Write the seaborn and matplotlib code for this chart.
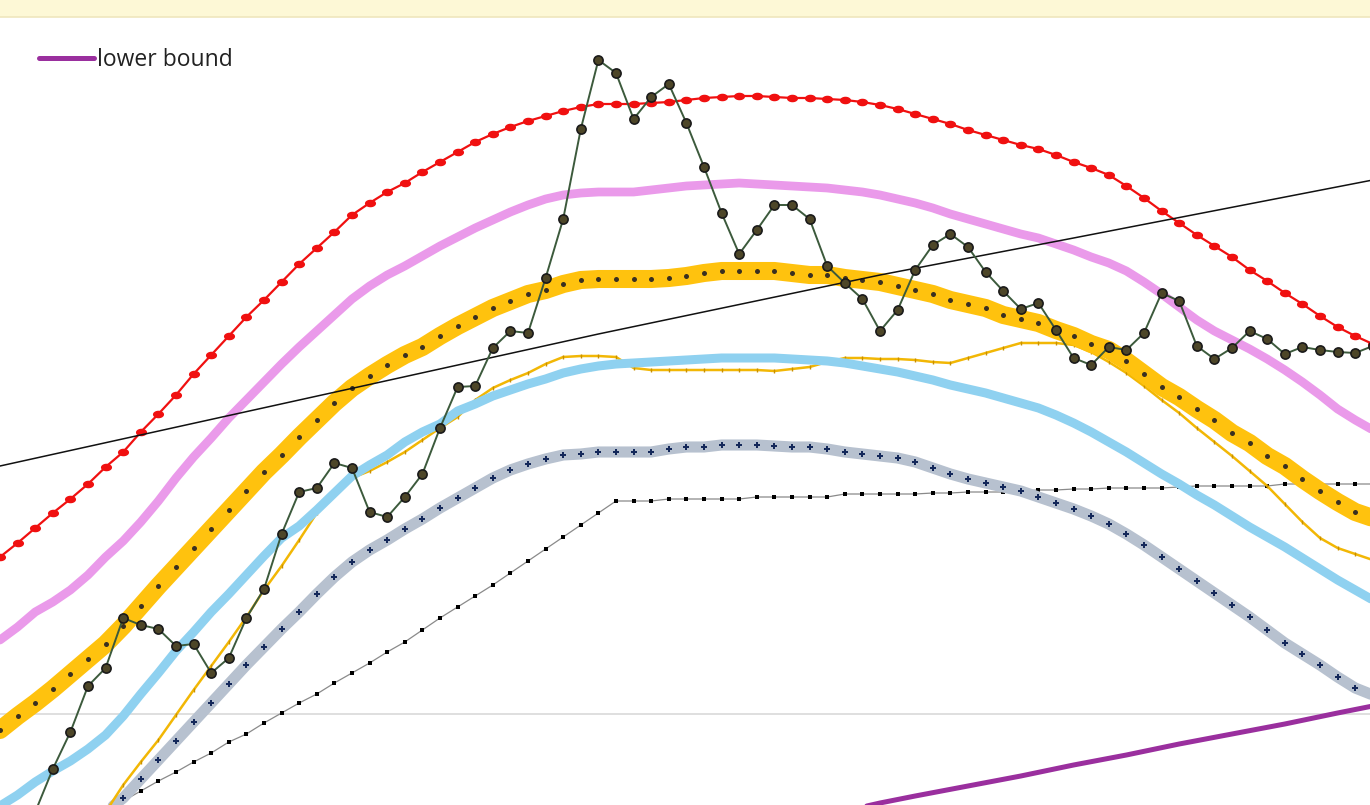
import numpy as np
import pandas as pd
import matplotlib
matplotlib.use("Agg")
import matplotlib.pyplot as plt
from matplotlib.path import Path
import seaborn as sns

# ---- data (x = day index, y = level relative to the reference line at 0) ----
red_start = 0
red_vals = [157, 171, 186, 201, 215, 230, 247, 262, 282, 300,
            319, 340, 359, 378, 397, 414, 432, 450, 466, 482,
            499, 511, 522, 531, 542, 552, 562, 572, 580, 587,
            593, 598, 603, 607, 610, 610, 610, 611, 612, 614,
            616, 617, 618, 618, 617, 616, 616, 615, 614, 612,
            609, 605, 600, 595, 590, 584, 579, 574, 569, 565,
            559, 552, 546, 539, 528, 516, 503, 491, 479, 468,
            457, 444, 433, 421, 410, 398, 387, 378, 370]

pink_start = 0
pink_vals = [74, 87, 102, 112, 124, 139, 157, 173, 192, 213,
             236, 257, 276, 296, 314, 332, 350, 367, 383, 399,
             415, 428, 439, 448, 458, 468, 477, 486, 494, 502,
             509, 515, 519, 521, 522, 522, 522, 524, 526, 528,
             529, 530, 531, 530, 529, 528, 527, 526, 524, 522,
             519, 515, 511, 506, 500, 495, 490, 485, 480, 476,
             470, 464, 457, 451, 443, 432, 420, 407, 394, 383,
             374, 365, 355, 344, 332, 319, 305, 294, 284]

amber_start = 0
amber_vals = [-16, -2, 11, 25, 40, 55, 70, 88, 108, 128,
              147, 166, 185, 204, 223, 242, 259, 277, 294, 311,
              326, 338, 349, 359, 367, 378, 388, 397, 406, 413,
              420, 424, 430, 434, 435, 435, 435, 435, 436, 438,
              441, 443, 443, 443, 443, 441, 439, 439, 436, 434,
              432, 428, 424, 420, 414, 410, 406, 399, 395, 391,
              384, 378, 370, 364, 353, 340, 327, 317, 305, 294,
              281, 271, 258, 248, 235, 223, 212, 202, 196]

sky_start = 0
sky_vals = [-92, -81, -68, -57, -47, -35, -21, -2, 20, 41,
            63, 82, 102, 120, 139, 158, 176, 188, 204, 221,
            238, 249, 259, 272, 282, 290, 303, 310, 318, 324,
            330, 335, 341, 345, 348, 350, 351, 352, 353, 354,
            355, 356, 356, 356, 356, 355, 354, 353, 351, 348,
            345, 342, 338, 334, 329, 325, 321, 316, 311, 306,
            299, 291, 282, 272, 262, 251, 240, 230, 219, 209,
            198, 187, 177, 167, 156, 145, 134, 124, 114]

gold_start = 6
gold_vals = [-98, -71, -48, -26, -1, 24, 48, 72, 97, 124,
             148, 174, 201, 219, 236, 243, 252, 262, 274, 286,
             297, 314, 326, 334, 341, 350, 357, 358, 358, 357,
             346, 344, 344, 344, 344, 344, 344, 344, 343, 345,
             347, 352, 356, 356, 355, 355, 354, 352, 351, 356,
             361, 366, 371, 371, 371, 369, 362, 352, 341, 328,
             314, 301, 286, 272, 258, 243, 228, 210, 192, 176,
             166, 160, 154]

slate_start = 6
slate_vals = [-98, -84, -65, -46, -27, -8, 11, 30, 49, 67,
              85, 102, 120, 137, 152, 164, 174, 185, 195, 206,
              216, 226, 236, 244, 250, 255, 259, 260, 262, 262,
              262, 262, 265, 267, 267, 269, 269, 269, 268, 267,
              267, 265, 262, 260, 258, 256, 252, 246, 240, 235,
              231, 227, 223, 217, 211, 205, 198, 190, 180, 169,
              157, 145, 133, 121, 109, 97, 84, 71, 60, 49,
              37, 26, 19]

step_start = 7
step_vals = [-87, -77, -67, -58, -48, -39, -28, -20, -9, 1,
             11, 20, 31, 41, 51, 62, 72, 84, 96, 107,
             118, 129, 141, 153, 165, 177, 189, 201, 213, 213,
             213, 215, 215, 215, 215, 215, 217, 217, 217, 217,
             217, 220, 220, 220, 220, 220, 221, 221, 222, 222,
             222, 223, 224, 224, 225, 225, 226, 226, 226, 226,
             227, 228, 228, 228, 228, 228, 230, 230, 230, 230,
             230, 230]

obs_start = 2
obs_vals = [-98, -55, -18, 28, 46, 96, 89, 85, 68, 70,
            41, 56, 96, 125, 180, 222, 226, 251, 246, 202,
            197, 217, 240, 286, 327, 328, 366, 383, 381, 436,
            495, 585, 654, 641, 595, 617, 630, 591, 547, 501,
            460, 484, 509, 509, 495, 448, 431, 415, 383, 404,
            444, 469, 480, 467, 442, 423, 405, 411, 384, 356,
            349, 367, 364, 381, 421, 413, 368, 355, 366, 383,
            375, 360, 367, 364, 362, 361, 368]

trend_x = [0, 17, 34, 50, 61, 78]
trend_vals = [248, 314, 380, 439, 476, 534]

lower_x = [49, 50, 52, 55, 58, 61, 64, 67, 70, 73, 76, 78]
lower_vals = [-93, -89, -82, -72, -62, -51, -41, -30, -20, -10, 1, 8]


def frame(start, vals):
    return pd.DataFrame({"day": np.arange(start, start + len(vals)), "level": vals})


# flattened oval marker for the upper envelope
_t = np.linspace(0, 2 * np.pi, 40)
oval = Path(np.column_stack([np.cos(_t), 0.68 * np.sin(_t)]), closed=True)

sns.set_theme(style="white")
plt.rcParams["font.family"] = ["Open Sans", "DejaVu Sans"]

fig = plt.figure(figsize=(13.7, 8.05), dpi=100, facecolor="#fdf8d6")
ax = fig.add_axes([0, 0, 1, 788 / 805])
ax.set_facecolor("white")

# header strip border
fig.add_artist(plt.Line2D([0, 1], [788 / 805, 788 / 805], color="#efe6bd", lw=1.2))

ax.axhline(0, color="#d6d6d6", lw=1.1, zorder=1)

sns.lineplot(data=pd.DataFrame({"day": lower_x, "level": lower_vals}), x="day", y="level",
             ax=ax, color="#9a2f9e", lw=3.6, solid_capstyle="round",
             label="lower bound", zorder=2)

sns.lineplot(data=frame(step_start, step_vals), x="day", y="level", ax=ax,
             color="#8a8a8a", lw=0.9, marker="s", ms=2.8, mfc="black", mec="black",
             mew=0, legend=False, zorder=3)

sns.lineplot(data=frame(slate_start, slate_vals), x="day", y="level", ax=ax,
             color="#b7c1cf", lw=8, marker="P", ms=4.2, mfc="#14285a", mec="#14285a",
             mew=0, legend=False, zorder=4)

sns.lineplot(data=frame(gold_start, gold_vals), x="day", y="level", ax=ax,
             color="#f2b705", lw=1.8, marker="|", ms=3, mec="#c98f00",
             mew=1, legend=False, zorder=5)

sns.lineplot(data=frame(sky_start, sky_vals), x="day", y="level", ax=ax,
             color="#8fd1f0", lw=6.5, legend=False, zorder=6)

sns.lineplot(data=frame(amber_start, amber_vals), x="day", y="level", ax=ax,
             color="#ffc20e", lw=13, marker="o", ms=3.6, mfc="#3a3020", mec="#3a3020",
             mew=0, legend=False, zorder=7)

sns.lineplot(data=frame(pink_start, pink_vals), x="day", y="level", ax=ax,
             color="#ea9aea", lw=6.3, legend=False, zorder=8)

sns.lineplot(data=frame(red_start, red_vals), x="day", y="level", ax=ax,
             color="#f01010", lw=1.6, marker=oval, ms=8, mfc="#f01010", mec="#f01010",
             mew=0, legend=False, zorder=9)

sns.lineplot(data=pd.DataFrame({"day": trend_x, "level": trend_vals}), x="day", y="level",
             ax=ax, color="#111111", lw=1.1, legend=False, zorder=10)

sns.lineplot(data=frame(obs_start, obs_vals), x="day", y="level", ax=ax,
             color="#3c5a3c", lw=1.4, marker="o", ms=6.6, mfc="#4d4628", mec="#1a1a1a",
             mew=1.2, legend=False, zorder=11)

ax.set_xlim(0, 1370 / 17.6)
ax.set_ylim(-91, 697)
ax.set_xlabel("")
ax.set_ylabel("")
ax.set_xticks([])
ax.set_yticks([])
for s in ax.spines.values():
    s.set_visible(False)

leg = ax.legend(loc="upper left", bbox_to_anchor=(0.022, 0.972), frameon=False,
                handlelength=2.4, handletextpad=0.1, fontsize=16.5,
                borderaxespad=0)
for t in leg.get_texts():
    t.set_color("#222222")

fig.savefig("out.png", dpi=100, facecolor=fig.get_facecolor())
